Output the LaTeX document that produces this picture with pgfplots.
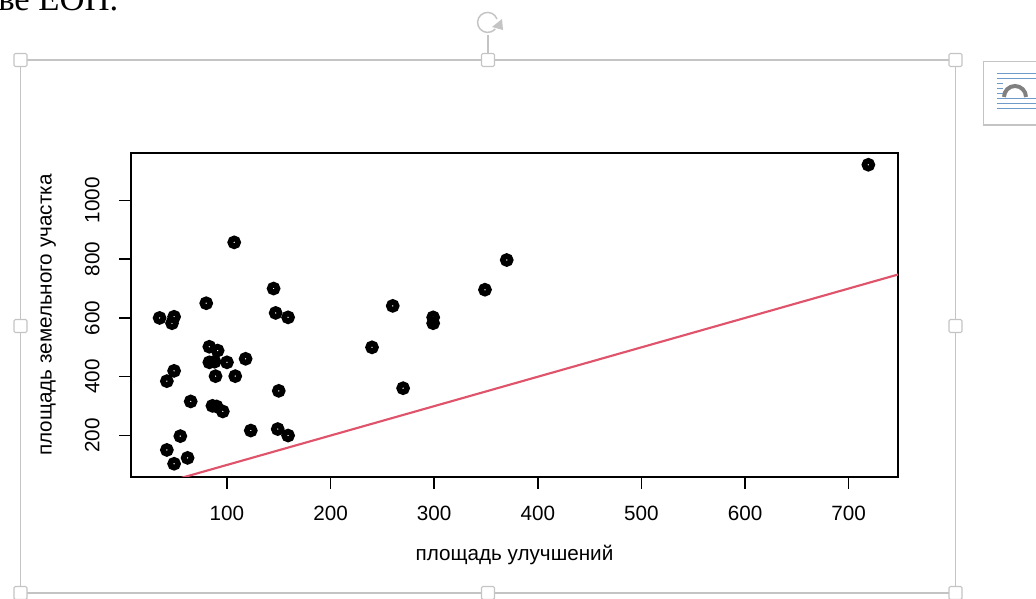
\documentclass[border=0pt]{standalone}
\usepackage{fontspec}
\setmainfont{Liberation Sans}
\newfontfamily\seriffont{Liberation Serif}
\usepackage{pgfplots}
\pgfplotsset{compat=1.18}
\definecolor{rred}{HTML}{DF536B}
\definecolor{framegray}{HTML}{C4C4C4}
\definecolor{iconblue}{HTML}{6F9BCB}
\begin{document}
\begin{tikzpicture}
\useasboundingbox (0,0) rectangle (777pt,449.25pt);
% Word selection frame (image px coordinates)
\begin{scope}[x=0.75pt,y=-0.75pt,yshift=449.25pt]
  \node[anchor=base west,inner sep=0pt,font=\seriffont\fontsize{26pt}{30pt}\selectfont] at (-2,11) {ве ЕОН.};
  \draw[framegray,line width=0.9pt] (20.5,60) rectangle (955.5,593);
  \draw[framegray,line width=0.9pt] (488,53) -- (488,35);
  \draw[framegray,line width=1.1pt] (497,19) arc (-20:-320:10);
  \fill[framegray] (492,27) -- (502,19) -- (503,30) -- cycle;
  \foreach \p in {(20.5,60),(488,60),(955.5,60),(20.5,326),(955.5,326),(20.5,593),(488,593),(955.5,593)}
    \draw[framegray,fill=white,line width=0.8pt,rounded corners=1pt] \p ++(-6.5,-6.5) rectangle ++(13,13);
  \draw[framegray,fill=white,line width=0.8pt] (983.5,61.5) rectangle (1040,125);
  \foreach \yy in {73,78,83,88,93,98,103,108}
    \draw[iconblue,line width=0.7pt] (997,\yy) -- (1040,\yy);
  \fill[white] (1003,80) rectangle (1036,97);
  \draw[gray,line width=3pt] (1004,97) arc (180:360:11);
\end{scope}
\begin{axis}[
  at={(98.25pt,91.5pt)}, anchor=south west,
  scale only axis, width=575.25pt, height=243pt,
  xmin=7.4, xmax=747.6, ymin=59, ymax=1161,
  axis line style={line width=1.1pt,black},
  every tick/.style={line width=1.1pt,black},
  tick align=outside, major tick length=9pt,
  xtick={100,200,...,700}, ytick={200,400,...,1000},
  xtick pos=bottom, ytick pos=left,
  tick label style={font=\fontsize{15.5pt}{18pt}\selectfont},
  /pgf/number format/assume math mode=true,
  /pgf/number format/1000 sep={},
  xticklabel style={yshift=-9pt},
  yticklabel style={rotate=90, anchor=south, yshift=11pt},
  xlabel={площадь улучшений},
  ylabel={площадь земельного участка},
  label style={font=\fontsize{15.5pt}{18pt}\selectfont},
  xlabel style={yshift=-12pt},
  ylabel style={yshift=15pt},
  clip=true,
]
\addplot[only marks, mark=o, mark size=2.9pt, mark options={line width=4.3pt, black}] coordinates {
(35,600) (49,604) (47,582) (80,650) (145,700) (147,617) (159,602) (107,857)
(83,502) (91,489) (83,449) (88,451) (100,449) (118,461) (49,420) (42,385)
(89,402) (108,402) (150,352) (65,316) (86,301) (90,299) (96,282) (123,217)
(149,222) (159,200) (55,198) (42,151) (62,124) (49,104) (240,500) (260,641)
(299,602) (299,582) (349,696) (370,797) (270,361) (719,1121)
};
\addplot[rred, line width=1.6pt] coordinates {(0,0) (800,800)};
\end{axis}
\end{tikzpicture}
\end{document}
